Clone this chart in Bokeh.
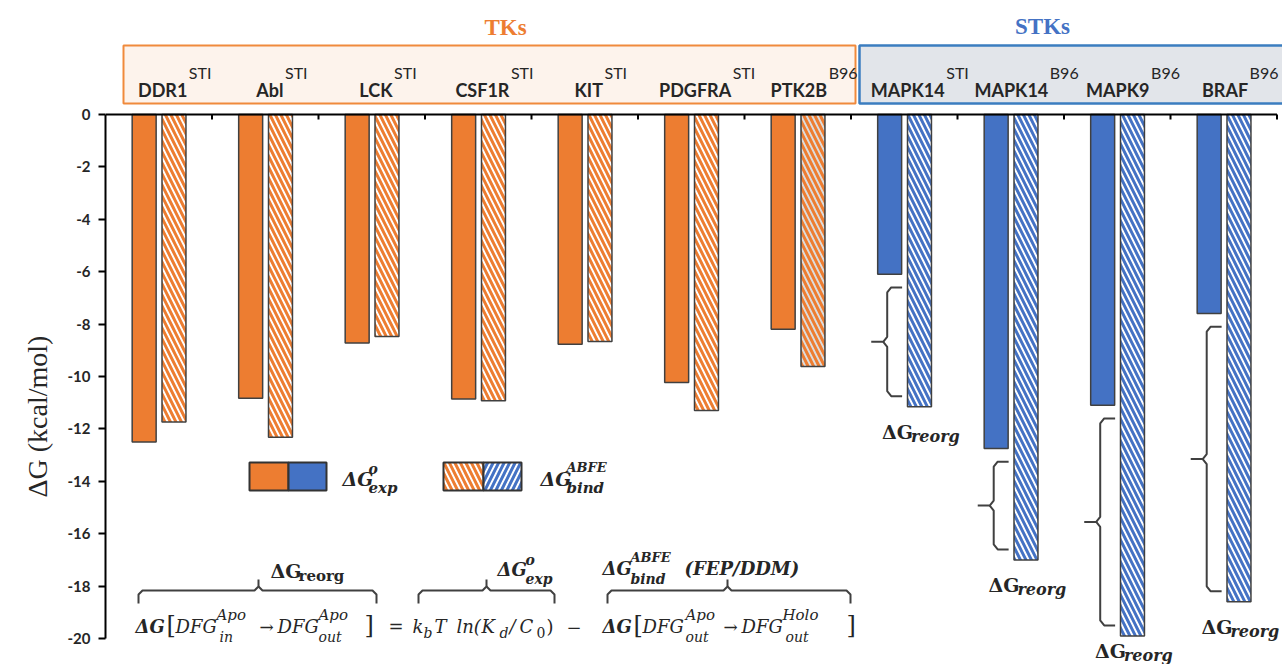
import math
from bokeh.plotting import figure
from bokeh.models import Range1d, FixedTicker, ColumnDataSource, Title
from bokeh.core.properties import value
from bokeh.embed import file_html
from bokeh.resources import INLINE

# ---------------- data ----------------
kinases = ["DDR1", "Abl", "LCK", "CSF1R", "KIT", "PDGFRA", "PTK2B",
           "MAPK14", "MAPK14", "MAPK9", "BRAF"]
ligands = ["STI", "STI", "STI", "STI", "STI", "STI", "B96",
           "STI", "B96", "B96", "B96"]
family = ["TK"] * 7 + ["STK"] * 4
dg_exp = [-12.5, -10.83, -8.72, -10.86, -8.77, -10.23, -8.2,
          -6.1, -12.75, -11.1, -7.6]
dg_abfe = [-11.74, -12.32, -8.47, -10.93, -8.66, -11.3, -9.62,
           -11.15, -17.0, -19.9, -18.6]
y_ticks = [-20, -18, -16, -14, -12, -10, -8, -6, -4, -2, 0]
group_names = ["TKs", "STKs"]

# ---------------- layout helpers ----------------
W, H = 1282, 664
LEFT = 105
PX_X = 106.5
X_END = (W - LEFT) / PX_X
Y0S = 114.0          # pixel y of value 0
PX_Y = 26.2
Y_TOP = Y0S / PX_Y
Y_BOT = -(H - Y0S) / PX_Y


def dx(sx):
    return (sx - LEFT) / PX_X


def dy(sy):
    return -(sy - Y0S) / PX_Y


ORANGE = "#ed7d31"
BLUE = "#4472c4"
INK = "#262626"
EDGE = "#404040"

p = figure(width=W, height=H, x_range=Range1d(0, X_END), y_range=Range1d(Y_BOT, Y_TOP),
           output_backend="svg", toolbar_location=None, x_axis_location=None,
           min_border_left=LEFT, min_border_right=0, min_border_top=0, min_border_bottom=0)
p.outline_line_color = None
p.grid.visible = False
p.background_fill_color = "white"
p.border_fill_color = "white"

ax = p.yaxis[0]
ax.bounds = (-20, 0)
ax.ticker = FixedTicker(ticks=y_ticks)
ax.major_label_overrides = {t: str(t) for t in y_ticks}
ax.major_tick_out = 7
ax.major_tick_in = 0
ax.minor_tick_out = 0
ax.minor_tick_in = 0
ax.axis_line_width = 2
ax.axis_line_color = "black"
ax.major_tick_line_width = 2
ax.major_tick_line_color = "black"
ax.major_label_text_font = "Lato"
ax.major_label_text_font_style = "bold"
ax.major_label_text_font_size = "15px"
ax.major_label_text_color = INK
ax.major_label_standoff = 8

p.add_layout(Title(text="ΔG (kcal/mol)", align="left", offset=167, standoff=24,
                   text_font="Liberation Serif", text_font_size="28px",
                   text_font_style="normal", text_color=INK), "left")

n = len(kinases)
xc = [i + 0.5 for i in range(n)]
cols = [ORANGE if f == "TK" else BLUE for f in family]
hatch_bg = ["#dcdcdc" if k == "PTK2B" else "white" for k in kinases]

# ---------------- header boxes ----------------
p.quad(left=[dx(123)], right=[dx(855)], top=[dy(45)], bottom=[dy(103)],
       fill_color="#fdf3ec", line_color="#f08a3c", line_width=2)
p.quad(left=[dx(859)], right=[11.6], top=[dy(45)], bottom=[dy(103)],
       fill_color="#e2e5ea", line_color="#3b7dc0", line_width=2.5)

p.text(x=[dx(505), dx(1042)], y=[dy(27), dy(26)], text=group_names,
       text_color=[ORANGE, BLUE], text_font=value("Liberation Serif"),
       text_font_style="bold", text_font_size="23px",
       text_align="center", text_baseline="middle")

# ---------------- category labels ----------------
LB = {'A': .68, 'B': .66, 'C': .64, 'D': .73, 'F': .56, 'G': .71, 'I': .29, 'K': .66,
      'L': .51, 'M': .88, 'P': .62, 'R': .64, 'T': .58, 'S': .55, 'b': .58, 'l': .27}


def est(s, size):
    return sum(LB.get(c, .58) for c in s) * size


MAIN_SZ, SUP_SZ = 18, 16
main_x, sup_x = [], []
for i in range(n):
    wm = est(kinases[i], MAIN_SZ)
    ws = est(ligands[i], SUP_SZ) * 0.92
    split = xc[i] + 0.14 + (wm - ws) / 2 / PX_X
    main_x.append(split)
    sup_x.append(split + 1.5 / PX_X)

p.text(x=main_x, y=[dy(89)] * n, text=kinases, text_color=INK,
       text_font=value("Lato"), text_font_style="bold", text_font_size=f"{MAIN_SZ}px",
       text_align="right", text_baseline="middle")
p.text(x=sup_x, y=[dy(72)] * n, text=ligands, text_color=INK,
       text_font=value("Lato"), text_font_style="normal", text_font_size=f"{SUP_SZ}px",
       text_align="left", text_baseline="middle")

# ---------------- bars ----------------
BW = 0.225
src = ColumnDataSource(dict(
    xe=[x - 0.137 for x in xc], xa=[x + 0.143 for x in xc],
    exp=dg_exp, abfe=dg_abfe, col=cols, bg=hatch_bg, zero=[0] * n))
p.vbar(x="xe", width=BW, top="zero", bottom="exp", source=src,
       fill_color="col", line_color=EDGE, line_width=1.5)
p.vbar(x="xa", width=BW, top="zero", bottom="abfe", source=src,
       fill_color="bg", hatch_color="col", hatch_pattern="left_diagonal_line",
       hatch_scale=11, hatch_weight=3, line_color=EDGE, line_width=1.5)

# x axis at zero (baseline + category ticks)
p.segment(x0=[0], y0=[0], x1=[11], y1=[0], line_color="black", line_width=2)
tk = list(range(1, 12))
p.segment(x0=tk, y0=[0] * len(tk), x1=tk, y1=[-5 / PX_Y] * len(tk),
          line_color="black", line_width=2)


# ---------------- text helper ----------------
def T(sx, sy, s, size, style="italic", font="DejaVu Serif", align="left", color=INK):
    p.text(x=[dx(sx)], y=[dy(sy)], text=[s], text_color=color, text_font=value(font),
           text_font_style=style, text_font_size=f"{size}px",
           text_align=align, text_baseline="middle")


# ---------------- braces on STK bars ----------------
cxp = 4 / PX_X
cyp = 5 / PX_Y
bx, by = [], []
for i in range(n):
    if family[i] != "STK":
        continue
    top = dg_exp[i] - 0.5
    bot = dg_abfe[i] + 0.4
    mid = (top + bot) / 2
    xv = xc[i] - 0.16
    xr = xc[i] - 0.02
    xl = xc[i] - 0.31
    bx.append([xr, xv + cxp, xv, xv, xv - cxp, xl])
    by.append([top, top, top - cyp, mid + cyp, mid, mid])
    bx.append([xv - cxp, xv, xv, xv + cxp, xr])
    by.append([mid, mid - cyp, bot + cyp, bot, bot])
    lx = xc[i] - 0.21
    ly = max(dg_abfe[i] - 0.95, dy(650))
    p.text(x=[lx], y=[ly], text=["ΔG"], text_color=INK, text_font=value("DejaVu Serif"),
           text_font_style="bold", text_font_size="19px", text_baseline="middle")
    p.text(x=[lx + 29 / PX_X], y=[ly - 5 / PX_Y], text=["reorg"], text_color=INK,
           text_font=value("DejaVu Serif"), text_font_style="bold italic",
           text_font_size="16px", text_baseline="middle")
p.multi_line(xs=bx, ys=by, line_color=EDGE, line_width=2)

# ---------------- legend ----------------
p.quad(left=[dx(249), dx(288)], right=[dx(288), dx(326)], top=[dy(462)] * 2,
       bottom=[dy(490)] * 2, fill_color=[ORANGE, BLUE], line_color="#333333", line_width=2)
p.quad(left=[dx(443)], right=[dx(483)], top=[dy(462)], bottom=[dy(490)],
       fill_color="white", hatch_color=ORANGE, hatch_pattern="left_diagonal_line",
       hatch_scale=11, hatch_weight=3, line_color="#333333", line_width=2)
p.quad(left=[dx(483)], right=[dx(521)], top=[dy(462)], bottom=[dy(490)],
       fill_color="white", hatch_color=BLUE, hatch_pattern="right_diagonal_line",
       hatch_scale=11, hatch_weight=3, line_color="#333333", line_width=2)
T(342, 478, "ΔG", 19, "bold italic")
T(368, 468, "o", 14, "bold italic")
T(368, 487, "exp", 15, "bold italic")
T(540, 478, "ΔG", 19, "bold italic")
T(566, 467, "ABFE", 13, "bold italic")
T(566, 487, "bind", 15, "bold italic")


# ---------------- equation ----------------
def brace(xl, xr, xm):
    c = 4
    xs1 = [dx(xl), dx(xl), dx(xl + c), dx(xm - c), dx(xm), dx(xm)]
    ys1 = [dy(603), dy(594), dy(590), dy(590), dy(586), dy(579)]
    xs2 = [dx(xm), dx(xm + c), dx(xr - c), dx(xr), dx(xr)]
    ys2 = [dy(586), dy(590), dy(590), dy(594), dy(603)]
    return [xs1, xs2], [ys1, ys2]


bxs, bys = [], []
for a, b, m in [(138, 376, 258), (418, 554, 486), (607, 850, 727)]:
    xs_, ys_ = brace(a, b, m)
    bxs += xs_
    bys += ys_
p.multi_line(xs=bxs, ys=bys, line_color=EDGE, line_width=2)

T(270, 570, "ΔG", 19, "bold")
T(298, 575, "reorg", 15, "bold")
T(497, 569, "ΔG", 18, "bold italic")
T(525, 559, "o", 14, "bold italic")
T(525, 578, "exp", 14, "bold italic")
T(602, 568, "ΔG", 18, "bold italic")
T(630, 557, "ABFE", 13, "bold italic")
T(630, 578, "bind", 14, "bold italic")
T(684, 568, "(FEP/DDM)", 18, "bold italic")

MY, SUP, SUB = 626, 614, 636
eq = [
    (135, MY, "ΔG", 18, "bold italic"), (166, MY - 2, "[", 24, "normal"),
    (175, MY, "DFG", 18, "italic"), (216, SUP, "Apo", 15, "italic"), (219, SUB, "in", 14, "italic"),
    (259, MY, "→", 17, "normal"), (277, MY, "DFG", 18, "italic"),
    (318, SUP, "Apo", 15, "italic"), (318, SUB, "out", 14, "italic"),
    (364, MY - 2, "]", 24, "normal"),
    (388, MY, "=", 18, "normal"), (412, MY, "k", 18, "italic"), (423, SUB - 4, "b", 14, "italic"),
    (434, MY, "T", 18, "italic"), (456, MY, "ln(", 18, "italic"), (481, MY, "K", 18, "italic"),
    (499, SUB - 4, "d", 14, "italic"), (509, MY, "/", 18, "italic"), (519, MY, "C", 18, "italic"),
    (536, SUB - 4, "0", 14, "normal"), (546, MY, ")", 18, "normal"), (566, MY, "−", 18, "normal"),
    (602, MY, "ΔG", 18, "bold italic"), (633, MY - 2, "[", 24, "normal"),
    (642, MY, "DFG", 18, "italic"), (685, SUP, "Apo", 15, "italic"), (685, SUB, "out", 14, "italic"),
    (723, MY, "→", 17, "normal"), (741, MY, "DFG", 18, "italic"),
    (782, SUP, "Holo", 15, "italic"), (785, SUB, "out", 14, "italic"),
    (846, MY - 2, "]", 24, "normal"),
]
for sx, sy, s, size, st in eq:
    T(sx, sy, s, size, st)

open("out.html", "w").write(file_html(p, INLINE))
